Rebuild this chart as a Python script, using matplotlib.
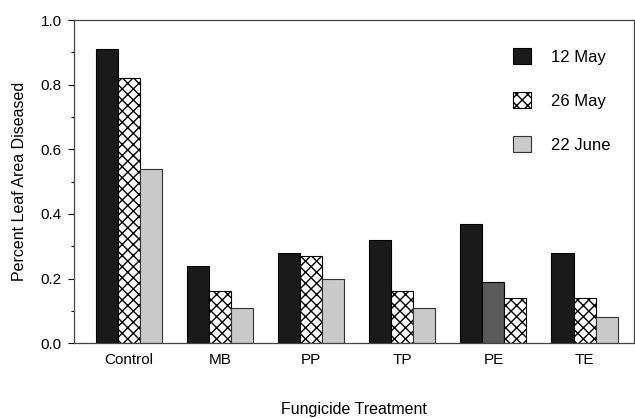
import numpy as np
import matplotlib.pyplot as plt
from matplotlib.patches import Patch

plt.rcParams['font.family'] = ['Liberation Sans', 'DejaVu Sans']
plt.rcParams['hatch.linewidth'] = 1.0

# ==== data ====
treatments = ['Control', 'MB', 'PP', 'TP', 'PE', 'TE']
may12 = [0.91, 0.24, 0.28, 0.32, 0.37, 0.28]
may26 = [0.82, 0.16, 0.27, 0.16, 0.19, 0.14]
june22 = [0.54, 0.11, 0.20, 0.11, 0.14, 0.08]
dates = ['12 May', '26 May', '22 June']

x = np.arange(len(treatments))
w = 0.242

fig, ax = plt.subplots(figsize=(6.35, 4.18), dpi=100)
fig.subplots_adjust(left=0.117, right=0.998, top=0.952, bottom=0.179)

ax.bar(x - w, may12, w, color='#1a1a1a', edgecolor='black', linewidth=0.8)
b26 = ax.bar(x, may26, w, color='white', edgecolor='black', linewidth=0.8, hatch='xxx')
b22 = ax.bar(x + w, june22, w, color='#c9c9c9', edgecolor='#333333', linewidth=0.8)

# the PE group in the original swaps the fills of the last two bars
b26[4].set_hatch('')
b26[4].set_facecolor('#5a5a5a')
b22[4].set_hatch('xxx')
b22[4].set_facecolor('white')
b22[4].set_edgecolor('black')

ax.set_xlim(-0.6, 5.54)
ax.set_ylim(0, 1.0)
ax.set_yticks(np.arange(0, 1.01, 0.2))
ax.set_yticks(np.arange(0.1, 1.0, 0.2), minor=True)
ax.set_yticklabels(['%.1f' % v for v in np.arange(0, 1.01, 0.2)], fontsize=11)
ax.tick_params(axis='y', which='major', length=4, width=0.8, direction='out', pad=5)
ax.tick_params(axis='y', which='minor', length=2.5, width=0.8, direction='out')
ax.set_xticks(x)
ax.set_xticklabels(treatments, fontsize=11)
ax.tick_params(axis='x', length=0, pad=7)
for s in ax.spines.values():
    s.set_linewidth(0.9)
    s.set_color('#444444')

ax.set_ylabel('Percent Leaf Area Diseased', fontsize=11.5, labelpad=10)
ax.set_xlabel('Fungicide Treatment', fontsize=11.5, labelpad=25)

handles = [Patch(facecolor='#1a1a1a', edgecolor='black', linewidth=0.8),
           Patch(facecolor='white', edgecolor='black', linewidth=0.8, hatch='xxx'),
           Patch(facecolor='#c9c9c9', edgecolor='#333333', linewidth=0.8)]
ax.legend(handles, dates, loc='upper right', bbox_to_anchor=(0.985, 0.96),
          frameon=False, fontsize=12, handlelength=1.1, handleheight=1.1,
          labelspacing=1.65, handletextpad=1.2)

fig.savefig('out.png', dpi=100)
